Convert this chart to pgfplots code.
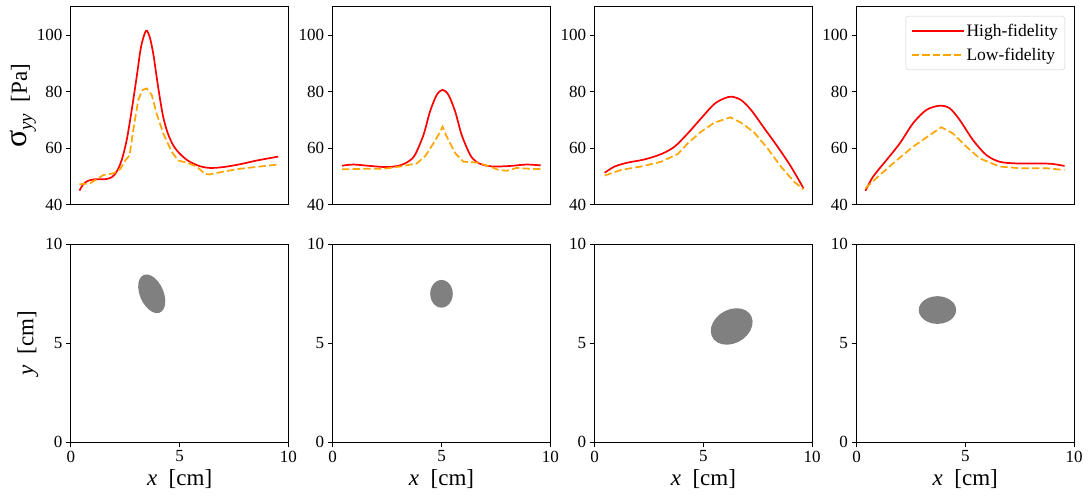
\documentclass[border=0pt]{standalone}
\usepackage{fontspec}
\setmainfont{Liberation Serif}
\usepackage{pgfplots}
\pgfplotsset{compat=1.18}

\definecolor{hf}{HTML}{FF0000}
\definecolor{lf}{HTML}{FFA500}
\definecolor{incl}{HTML}{808080}

\pgfplotsset{
  panel/.style={scale only axis, width=217.6pt, height=198pt, anchor=south west,
    xmin=0, xmax=10, axis line style={line width=1.0pt},
    tick pos=left, tick align=outside, major tick length=5pt,
    every tick/.style={black, line width=1.0pt},
    tick label style={font=\fontsize{17}{17}\selectfont},
    label style={font=\fontsize{23}{23}\selectfont},
    /pgf/number format/assume math mode=true},
  toprow/.style={panel, ymin=40, ymax=110, ytick={40,60,80,100}, xtick=\empty},
  botrow/.style={panel, ymin=0, ymax=10, xtick={0,5,10}, ytick={0,5,10}},
  hfline/.style={hf, line width=1.7pt, smooth},
  lfline/.style={lf, line width=1.7pt, dash pattern=on 7.4pt off 3.2pt},
  blob/.style={fill=incl, draw=none},
}

\begin{document}
\begin{tikzpicture}
\useasboundingbox (0,0) rectangle (1090pt,500pt);

% ---- top row: stress profiles ----
\begin{axis}[toprow, at={(70.8pt,295pt)}, ylabel shift=-6pt,
  ylabel={{\fontsize{32}{32}\selectfont σ}{\fontsize{19}{19}\selectfont\raisebox{-5pt}{\textit{yy}}}\ \ [Pa]}]
\addplot[hfline] coordinates {
 (0.40,45.1) (0.58,47.4) (0.81,48.6) (1.12,49.1) (1.57,49.1) (1.88,49.8)
 (2.11,51.8) (2.34,55.9) (2.57,63.0) (2.80,73.6) (3.03,85.4) (3.23,96.0)
 (3.46,101.6) (3.64,99.0) (3.80,93.0) (3.95,85.0) (4.10,77.5) (4.25,71.0)
 (4.45,65.5) (4.70,61.2) (5.00,58.2) (5.40,55.6) (5.90,53.8) (6.39,53.1)
 (7.00,53.4) (7.77,54.4) (8.53,55.7) (9.53,57.1)};
\addplot[lfline] coordinates {
 (0.40,47.3) (0.89,47.7) (1.50,50.6) (1.96,51.2) (2.26,52.6) (2.54,56.1)
 (2.70,57.5) (2.87,66.5) (3.10,77.1) (3.30,80.7) (3.49,81.2) (3.72,78.9)
 (3.94,72.4) (4.25,65.3) (4.63,58.9) (4.94,55.7) (5.32,55.0) (5.78,53.6)
 (6.16,51.0) (6.39,50.8) (7.00,51.8) (7.77,52.8) (8.69,53.6) (9.53,54.3)};
\end{axis}

\begin{axis}[toprow, at={(332.7pt,295pt)}]
\addplot[hfline] coordinates {
 (0.43,53.9) (0.96,54.3) (1.73,53.8) (2.49,53.4) (3.10,54.0) (3.50,55.5)
 (3.78,57.7) (4.17,64.7) (4.47,73.0) (4.78,78.9) (5.05,80.7) (5.32,78.9)
 (5.63,73.0) (5.93,64.7) (6.32,57.7) (6.60,55.3) (6.90,54.2) (7.39,53.6)
 (8.15,53.8) (8.91,54.3) (9.56,54.0)};
\addplot[lfline] coordinates {
 (0.43,52.6) (1.42,52.8) (2.34,52.8) (3.10,53.6) (3.87,54.7) (4.25,57.3)
 (4.63,61.8) (4.94,65.9) (5.05,67.7) (5.24,64.2) (5.63,58.3) (6.01,55.3)
 (6.62,55.0) (7.23,53.6) (7.61,52.4) (8.00,52.1) (8.46,53.1) (9.07,52.8)
 (9.56,52.7)};
\end{axis}

\begin{axis}[toprow, at={(594.6pt,295pt)}]
\addplot[hfline] coordinates {
 (0.46,51.4) (0.92,53.6) (1.53,55.0) (2.29,56.1) (3.06,58.0) (3.67,60.6)
 (4.28,65.3) (4.89,70.6) (5.50,75.7) (5.96,77.7) (6.30,78.3) (6.73,77.1)
 (7.19,73.6) (7.80,67.1) (8.41,60.6) (9.02,53.6) (9.60,45.9)};
\addplot[lfline] coordinates {
 (0.46,50.4) (1.22,52.4) (2.14,53.6) (3.06,55.3) (3.82,58.0) (4.28,61.8)
 (4.89,65.9) (5.50,69.1) (6.24,71.0) (6.73,69.1) (7.34,65.6) (7.95,60.0)
 (8.56,53.6) (9.17,48.2) (9.60,45.5)};
\end{axis}

\begin{axis}[toprow, at={(856.5pt,295pt)},
  legend style={at={(1,1)}, anchor=north east, xshift=-9pt, yshift=-9pt,
    draw=black!20, rounded corners=3pt, fill=white, inner xsep=5pt, inner ysep=6pt,
    nodes={font=\fontsize{17.5}{20}\selectfont, inner sep=2pt}, row sep=6pt},
  legend cell align=left,
  legend image code/.code={\path (0pt,0pt) -- (52pt,0pt); \draw[#1] (0pt,0pt) -- (38pt,0pt);}]
\addplot[hfline] coordinates {
 (0.41,45.0) (0.76,50.0) (1.38,55.9) (1.99,61.8) (2.60,68.9) (3.21,73.6)
 (3.82,75.1) (4.28,74.2) (4.74,70.1) (5.35,63.0) (5.96,57.7) (6.57,55.3)
 (7.34,54.7) (8.41,54.7) (9.02,54.5) (9.56,53.8)};
\addlegendentry{High-fidelity}
\addplot[lfline] coordinates {
 (0.41,45.9) (1.07,50.6) (1.83,55.7) (2.60,60.6) (3.36,64.7) (3.90,67.5)
 (4.43,65.3) (5.05,60.6) (5.66,56.5) (6.57,53.6) (7.49,53.0) (8.72,53.0)
 (9.56,52.4)};
\addlegendentry{Low-fidelity}
\end{axis}

% ---- bottom row: inclusion shapes ----
\begin{axis}[botrow, at={(70.8pt,57.7pt)}, xlabel={\textit{x}\ \ [cm]}, ylabel={\textit{y}\ \ [cm]}]
\addplot[blob] coordinates {
 (3.371,8.459) (3.249,8.378) (3.159,8.237) (3.107,8.045) (3.098,7.817) (3.130,7.567)
 (3.203,7.312) (3.311,7.070) (3.447,6.857) (3.601,6.689) (3.764,6.575) (3.923,6.525)
 (4.069,6.541) (4.191,6.622) (4.281,6.763) (4.333,6.955) (4.342,7.183) (4.310,7.433)
 (4.237,7.688) (4.129,7.930) (3.993,8.143) (3.839,8.311) (3.676,8.425) (3.517,8.475)} -- cycle;
\end{axis}

\begin{axis}[botrow, at={(332.7pt,57.7pt)}, xlabel={\textit{x}\ \ [cm]}]
\addplot[blob] coordinates {
 (5.520,7.500) (5.502,7.681) (5.450,7.850) (5.368,7.995) (5.260,8.106) (5.135,8.176)
 (5.000,8.200) (4.865,8.176) (4.740,8.106) (4.632,7.995) (4.550,7.850) (4.498,7.681)
 (4.480,7.500) (4.498,7.319) (4.550,7.150) (4.632,7.005) (4.740,6.894) (4.865,6.824)
 (5.000,6.800) (5.135,6.824) (5.260,6.894) (5.368,7.005) (5.450,7.150) (5.502,7.319)} -- cycle;
\end{axis}

\begin{axis}[botrow, at={(594.6pt,57.7pt)}, xlabel={\textit{x}\ \ [cm]}]
\addplot[blob] coordinates {
 (7.104,6.525) (6.940,6.665) (6.733,6.749) (6.496,6.771) (6.246,6.731) (5.999,6.631)
 (5.773,6.478) (5.583,6.282) (5.442,6.056) (5.359,5.817) (5.340,5.579) (5.387,5.360)
 (5.496,5.175) (5.660,5.035) (5.867,4.951) (6.104,4.929) (6.354,4.969) (6.601,5.069)
 (6.827,5.222) (7.017,5.418) (7.158,5.644) (7.241,5.883) (7.260,6.121) (7.213,6.340)} -- cycle;
\end{axis}

\begin{axis}[botrow, at={(856.5pt,57.7pt)}, xlabel={\textit{x}\ \ [cm]}]
\addplot[blob] coordinates {
 (4.580,6.680) (4.551,6.861) (4.465,7.030) (4.328,7.175) (4.150,7.286) (3.943,7.356)
 (3.720,7.380) (3.497,7.356) (3.290,7.286) (3.112,7.175) (2.975,7.030) (2.889,6.861)
 (2.860,6.680) (2.889,6.499) (2.975,6.330) (3.112,6.185) (3.290,6.074) (3.497,6.004)
 (3.720,5.980) (3.943,6.004) (4.150,6.074) (4.328,6.185) (4.465,6.330) (4.551,6.499)} -- cycle;
\end{axis}
\end{tikzpicture}
\end{document}
